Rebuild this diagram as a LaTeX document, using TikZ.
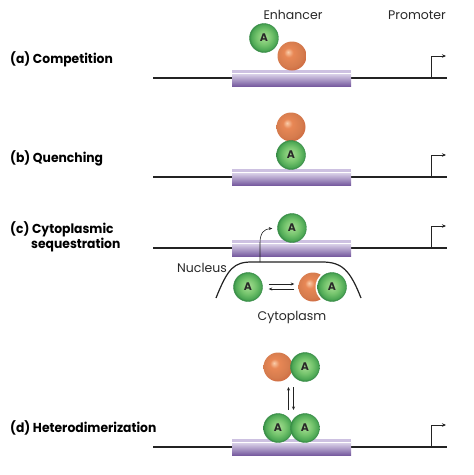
\documentclass[tikz,border=0pt]{standalone}
\usepackage{fontspec}
\setmainfont{Poppins}
\newfontfamily\labfont{Poppins}[FakeStretch=0.95]
\usetikzlibrary{arrows.meta,calc}
\definecolor{gHi}{RGB}{170,222,150}
\definecolor{gMid}{RGB}{118,197,110}
\definecolor{gDk}{RGB}{78,168,85}
\definecolor{gEdge}{RGB}{55,140,70}
\definecolor{oHi}{RGB}{250,205,170}
\definecolor{oMid}{RGB}{232,135,85}
\definecolor{oDk}{RGB}{205,100,60}
\definecolor{barTop}{RGB}{225,218,238}
\definecolor{barBot}{RGB}{120,92,160}
\definecolor{barLip}{RGB}{205,193,225}
\definecolor{dna}{RGB}{35,35,35}
\definecolor{txt}{RGB}{40,40,40}
\pgfdeclareradialshading{grball}{\pgfqpoint{0bp}{2bp}}{color(0bp)=(gHi); color(13bp)=(gMid); color(22bp)=(gDk); color(25bp)=(gEdge); color(50bp)=(gEdge)}
\pgfdeclareradialshading{orball}{\pgfqpoint{-7bp}{7bp}}{color(0bp)=(oHi); color(8bp)=(oMid); color(22bp)=(oMid!92!black); color(32bp)=(oDk); color(50bp)=(oDk)}
\tikzset{
  actA/.style={circle, minimum size=29pt, inner sep=0pt, shading=grball, draw=gEdge, line width=0.4pt, font=\bfseries\fontsize{11}{11}\selectfont, text=txt},
  rep/.style={circle, minimum size=29pt, inner sep=0pt, shading=orball},
  lab/.style={anchor=west, inner sep=0pt, font=\labfont\bfseries\fontsize{13}{13}\selectfont, text=black},
  hdr/.style={inner sep=0pt, font=\fontsize{12.5}{12.5}\selectfont, text=txt},
  dnaline/.style={draw=dna, line width=1.2pt},
  small arrow/.style={draw=dna, line width=0.6pt, -{Stealth[length=3.5pt,width=3pt]}},
  gene/.pic={
    \draw[dnaline] (153,0) -- (447,0);
    \shade[top color=barTop, bottom color=barBot] (232,-5) rectangle (351,8);
    \fill[barLip] (232,-8) rectangle (351,-5);
    \draw[white, line width=0.6pt] (232,-5) -- (351,-5);
    \draw[draw=dna, line width=0.9pt, -{Stealth[length=4pt,width=3.5pt]}] (431,0) -- (431,-22) -- (446,-22);
  }
}
\begin{document}
\begin{tikzpicture}[x=1pt, y=-1pt]
\useasboundingbox (0,0) rectangle (474,475);
% headers
\node[hdr] (enh) at (293,15) {Enhancer};
\node[hdr] (pro) at (417,15) {Promoter};
% labels
\node[lab] (la) at (10,59) {(a) Competition};
\node[lab] (lb) at (10,158) {(b) Quenching};
\node[lab] (lc1) at (10,229) {(c) Cytoplasmic};
\node[lab] (lc2) at (31,245) {sequestration};
\node[lab] (ld) at (10,428) {(d) Heterodimerization};
% genes
\pic at (0,78) {gene};
\pic at (0,177) {gene};
\pic at (0,248) {gene};
\pic at (0,447) {gene};
% (a)
\node[actA] (a1) at (264,38) {A};
\node[rep] (r1) at (292,56) {};
% (b)
\node[rep] (r2) at (291,127) {};
\node[actA] (a2) at (291,155) {A};
% (c)
\node[actA] (a3) at (292,228) {A};
\coordinate (nL) at (216,298);
\coordinate (nTop) at (260,262);
\coordinate (nR) at (361,298);
\draw[dna, line width=1.2pt] (nL) .. controls (228,268) and (234,262) .. (252,262) -- (322,262) .. controls (342,262) and (350,270) .. (nR);
\draw[small arrow, shorten >=5pt] (nTop) -- (260,243) .. controls (260,233) and (264,229) .. (a3.west);
\node[hdr] (nuc) at (202,268) {Nucleus};
\node[actA] (a4) at (248,287) {A};
\node[rep] (r3) at (313,287) {};
\fill[white] (332,287) circle (16.5);
\node[actA] (a5) at (332,287) {A};
\draw[small arrow] ($(a4.east)+(6,-3)$) -- ($(r3.west)+(-4,-3)$);
\draw[small arrow] ($(r3.west)+(-4,2)$) -- ($(a4.east)+(6,2)$);
\node[hdr] (cyt) at (292,317) {Cytoplasm};
% (d)
\node[rep] (r4) at (278,367) {};
\node[actA] (a6) at (305,367) {A};
\node[actA] (a7) at (278,428) {A};
\node[actA] (a8) at (305,428) {A};
\coordinate (top) at ($(r4)!0.5!(a6)$);
\coordinate (bot) at ($(a7)!0.5!(a8)$);
\draw[small arrow] ($(bot)+(-3,-18)$) -- ($(top)+(-3,20)$);
\draw[small arrow] ($(top)+(2,20)$) -- ($(bot)+(2,-18)$);
\end{tikzpicture}
\end{document}
